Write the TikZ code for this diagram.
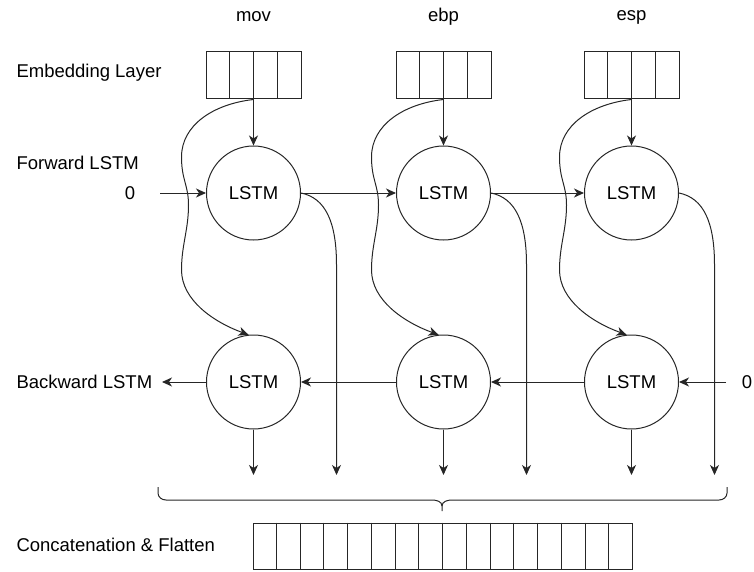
\documentclass[tikz,border=0pt]{standalone}
\usepackage{fontspec}
\setmainfont{Liberation Sans}
\usetikzlibrary{arrows.meta,calc}
\begin{document}
\begin{tikzpicture}[x=1pt,y=-1pt,
  font=\fontsize{18.5}{21}\selectfont,
  line width=1pt, draw=black!85,
  lstm/.style={circle, draw, minimum size=94pt, inner sep=0pt},
  emb/.style={draw, minimum width=95pt, minimum height=47pt, inner sep=0pt},
  flat/.style={draw, minimum width=379pt, minimum height=46pt, inner sep=0pt},
  arr/.style={-{Stealth[length=10pt,width=9pt,inset=3pt]}},
  lbl/.style={anchor=west, inner sep=0pt},
  word/.style={inner sep=0pt}]
\useasboundingbox (0,0) rectangle (754,572);

% row labels
\node[lbl] (lemb) at (16,73) {Embedding Layer};
\node[lbl] (lfwd) at (16,163) {Forward LSTM};
\node[lbl] (lbwd) at (16,382) {Backward LSTM};
\node[lbl] (lcat) at (16,545) {Concatenation \& Flatten};
\node[word] (z1) at (130,193) {0};
\node[word] (z2) at (747,382) {0};
\coordinate (zs1) at (160,193);
\coordinate (zs2) at (726,382);
\coordinate (bt) at (162,382);

\foreach \i/\x/\w in {1/253.5/mov, 2/443.5/ebp, 3/631.5/esp}{
  \node[word] (w\i) at (\x,17) {\w};
  \node[emb] (e\i) at (\x,75.5) {};
  \foreach \k in {1,2,3}
    \draw ($(e\i.north west)!\k/4!(e\i.north east)$) -- ($(e\i.south west)!\k/4!(e\i.south east)$);
  \node[lstm] (f\i) at (\x,193) {LSTM};
  \node[lstm] (b\i) at (\x,382) {LSTM};
  \coordinate (d\i) at (\x,475);
  \coordinate (g\i) at (\x+83,475);
  % embedding to forward
  \draw[arr] (e\i.south) -- (f\i.north);
  % embedding to backward (curved)
  \draw[arr] (e\i.south) .. controls (\x-40,104) and (\x-72,125) .. (\x-72,157)
     .. controls (\x-72,180) and (\x-65,185) .. (\x-65,205)
     .. controls (\x-65,230) and (\x-72,245) .. (\x-72,270)
     .. controls (\x-72,300) and (\x-40,322) .. (b\i.96);
  % backward output
  \draw[arr] (b\i.south) -- (d\i);
  % forward output
  \draw[arr] (f\i.east) .. controls (\x+72,198) and (\x+83,222) .. (\x+83,265) -- (g\i);
}

% recurrent connections
\draw[arr] (zs1) -- (f1.west);
\draw[arr] (f1.east) -- (f2.west);
\draw[arr] (f2.east) -- (f3.west);
\draw[arr] (zs2) -- (b3.east);
\draw[arr] (b3.west) -- (b2.east);
\draw[arr] (b2.west) -- (b1.east);
\draw[arr] (b1.west) -- (bt);

% brace
\draw (158,487) -- (158,493) to[out=-90,in=180] (166,500) -- (432,500)
  to[out=0,in=90] (442,506) -- (442,511);
\draw (442,506) to[out=90,in=180] (452,500) -- (719,500)
  to[out=0,in=-90] (727,493) -- (727,487);

% flatten
\node[flat] (cat) at (442.5,546) {};
\foreach \k in {1,...,15}
  \draw ($(cat.north west)!\k/16!(cat.north east)$) -- ($(cat.south west)!\k/16!(cat.south east)$);
\end{tikzpicture}
\end{document}
